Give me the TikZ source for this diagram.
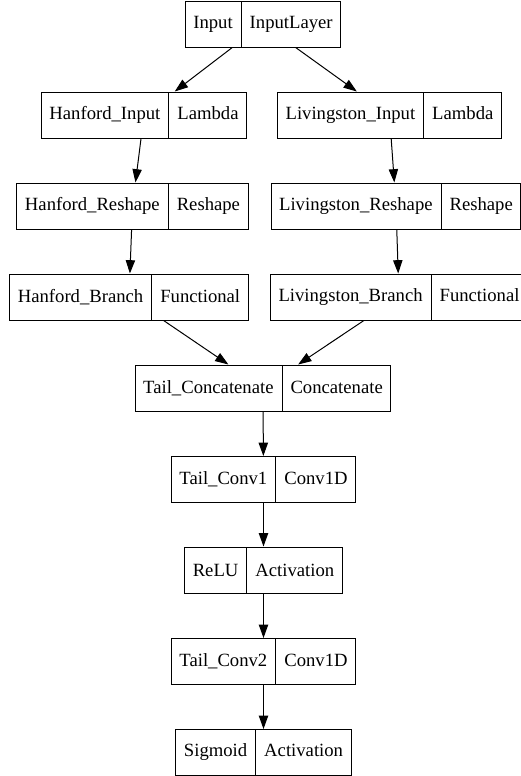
\documentclass[tikz,border=0pt]{standalone}
\usepackage{fontspec}
\setmainfont{Liberation Serif}
\usetikzlibrary{arrows.meta,positioning,shapes.multipart}

\begin{document}
\begin{tikzpicture}[%
    x=0.75pt, y=-0.75pt,
    every node/.style={rectangle split,rectangle split horizontal,rectangle split parts=2,
        rectangle split part align=base,
        draw,line width=0.75pt,inner xsep=6pt,minimum height=34.5pt,
        font=\fontsize{14}{17}\selectfont},
    edge/.style={-{Triangle[length=10pt,width=7pt]},line width=0.75pt}
]
\useasboundingbox (0,0) rectangle (521,776);

% ---------------- Inputs and branches ----------------
\node (input)    at (263,24)    {Input \nodepart{two} InputLayer};
\node (hInput)   at (144,115)   {Hanford\_Input \nodepart{two} Lambda};
\node (lInput)   at (389.5,115) {Livingston\_Input \nodepart{two} Lambda};
\node (hReshape) at (132.5,206) {Hanford\_Reshape \nodepart{two} Reshape};
\node (lReshape) at (396,206)   {Livingston\_Reshape \nodepart{two} Reshape};
\node (hBranch)  at (129,297)   {Hanford\_Branch \nodepart{two} Functional};
\node (lBranch)  at (399,297)   {Livingston\_Branch \nodepart{two} Functional};

% ---------------- Tail ----------------
\node (concat)   at (263,388)   {Tail\_Concatenate \nodepart{two} Concatenate};
\node (conv1)    at (263.5,479.5) {Tail\_Conv1 \nodepart{two} Conv1D};
\node (relu)     at (263.5,570) {ReLU \nodepart{two} Activation};
\node (conv2)    at (263.5,661.5) {Tail\_Conv2 \nodepart{two} Conv1D};
\node (sigmoid)  at (263.5,752.5) {Sigmoid \nodepart{two} Activation};

% ---------------- Connections ----------------
\foreach \a/\b in {input/hInput,input/lInput,hInput/hReshape,lInput/lReshape,
                   hReshape/hBranch,lReshape/lBranch,hBranch/concat,lBranch/concat,
                   concat/conv1,conv1/relu,relu/conv2,conv2/sigmoid} {
    \draw[edge] (\a) -- (\b);
}

\end{tikzpicture}
\end{document}
